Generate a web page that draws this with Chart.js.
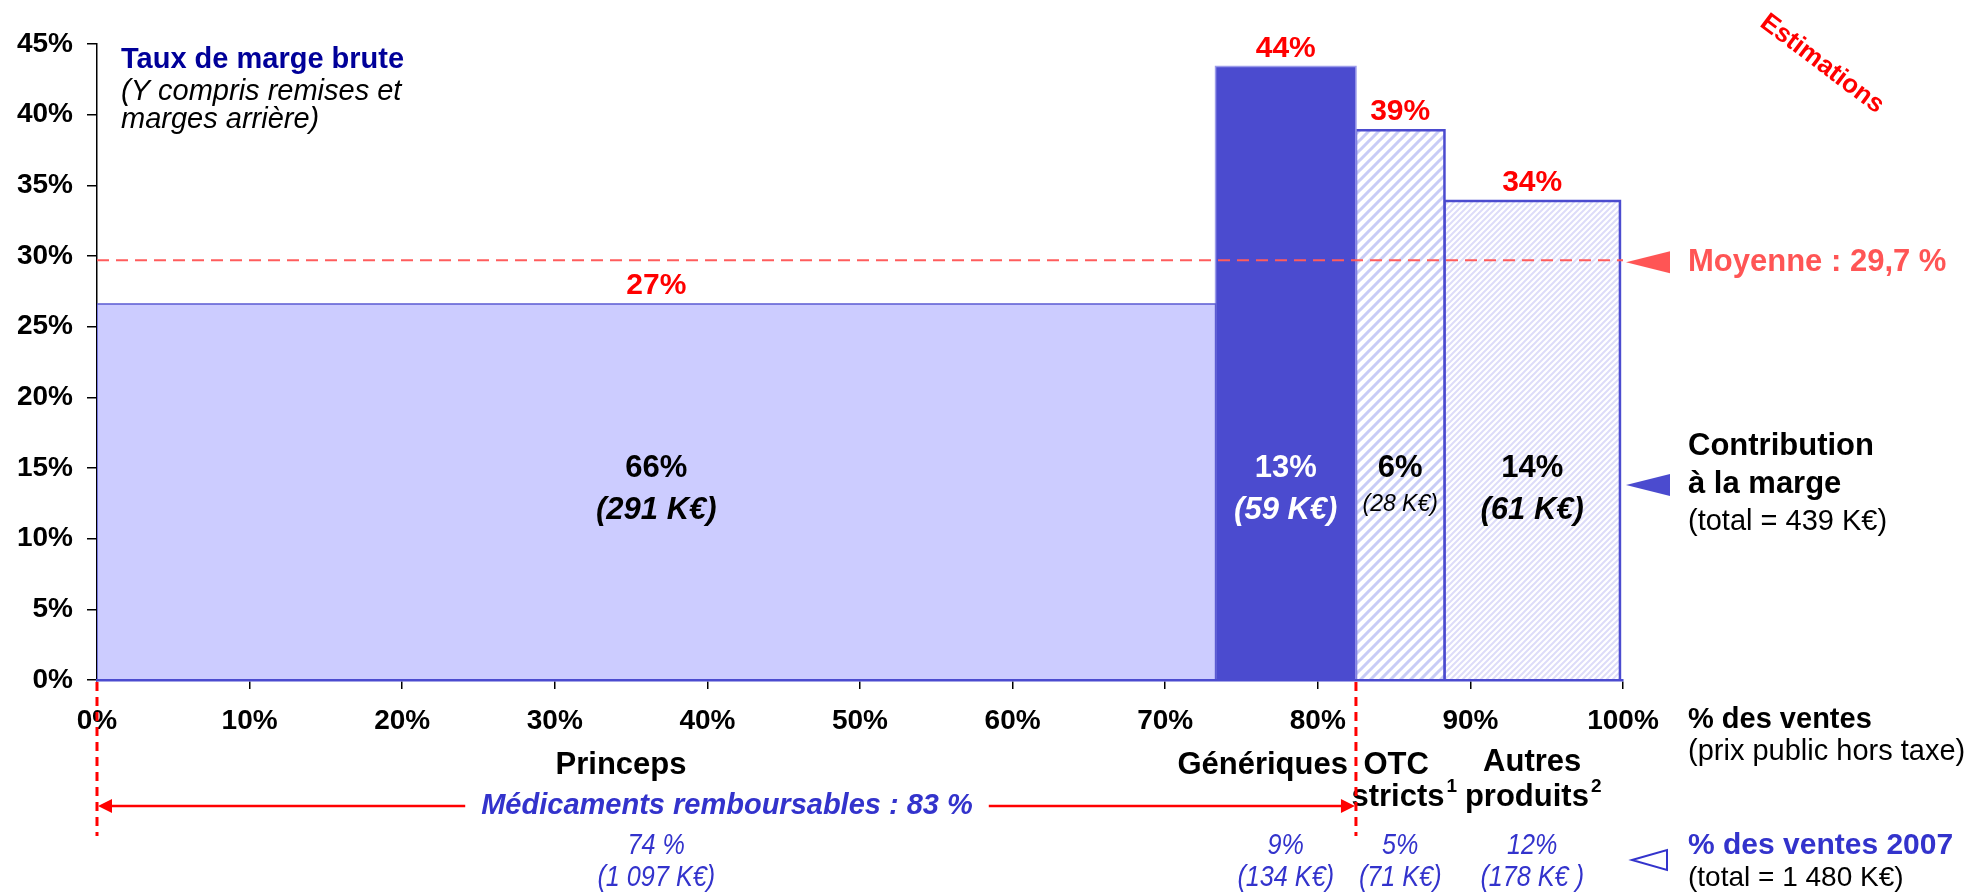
<!DOCTYPE html>
<html>
<head>
<meta charset="utf-8">
<script src="https://cdn.jsdelivr.net/npm/chart.js@4/dist/chart.umd.min.js"></script>
<style>
  body { margin: 0; background: #fff; }
  #wrap { width: 1972px; height: 895px; }
</style>
</head>
<body>
<div id="wrap"><canvas id="chart" width="1972" height="895"></canvas></div>
<script>
// data
const categories = ["Princeps", "Génériques", "OTC stricts", "Autres produits"];
const salesEdges = [0, 73.3, 82.5, 88.3, 99.8]; // cumulative % des ventes
const marginRates = [26.6, 43.4, 38.9, 33.9];
const rateLabels = ["27%", "44%", "39%", "34%"];
const contribPct = ["66%", "13%", "6%", "14%"];
const contribK = ["(291 K€)", "(59 K€)", "(28 K€)", "(61 K€)"];
const salesPct = ["74 %", "9%", "5%", "12%"];
const salesK = ["(1 097 K€)", "(134 K€)", "(71 K€)", "(178 K€ )"];
const meanRate = 29.7;
const refundableEdge = 82.5; // Médicaments remboursables : 83 %

const SANS = "'Liberation Sans', Arial, sans-serif";

function stripes(size, width, color) {
  const c = document.createElement("canvas");
  c.width = size;
  c.height = size;
  const g = c.getContext("2d");
  g.fillStyle = "#fff";
  g.fillRect(0, 0, size, size);
  g.strokeStyle = color;
  g.lineWidth = width;
  g.beginPath();
  g.moveTo(-2, 2); g.lineTo(2, -2);
  g.moveTo(0, size); g.lineTo(size, 0);
  g.moveTo(size - 2, size + 2); g.lineTo(size + 2, size - 2);
  g.stroke();
  return g.createPattern(c, "repeat");
}

const ctx = document.getElementById("chart").getContext("2d");

const fills = ["#ccccff", "#4b4bcf", stripes(10, 3, "#c8ccf6"), stripes(6, 2, "#dddcf9")];
const borders = ["#5a5ad2", "#9c9cea", "#4b4bcf", "#4b4bcf"];
const borderWidths = [1.5, 1.5, 2.5, 2.5];

// each bar is an outline (left edge, top, right edge) filled down to zero
const barSets = categories.map((name, i) => {
  const x0 = salesEdges[i], x1 = salesEdges[i + 1], h = marginRates[i];
  return {
    label: name,
    data: [{ x: x0, y: 0 }, { x: x0, y: h }, { x: x1, y: h }, { x: x1, y: 0 }],
    fill: "origin",
    backgroundColor: fills[i],
    borderColor: borders[i],
    borderWidth: borderWidths[i],
    pointRadius: 0,
    tension: 0,
  };
});

const meanSet = {
  label: "Moyenne",
  data: [{ x: 0, y: meanRate }, { x: 100, y: meanRate }],
  fill: false,
  borderColor: "#ff5c5c",
  borderWidth: 2,
  borderDash: [12, 7],
  pointRadius: 0,
};

function txt(c, s, x, y, font, color, align) {
  c.font = font;
  c.fillStyle = color;
  c.textAlign = align || "center";
  c.textBaseline = "middle";
  c.fillText(s, x, y);
}

// condensed italic text, squeezed horizontally
function narrow(c, s, x, y, color) {
  c.save();
  c.translate(x, y);
  c.scale(0.84, 1);
  txt(c, s, 0, 0, "italic 30px " + SANS, color);
  c.restore();
}

// label with a superscript number, centred on x
function supLabel(c, s, sup, x, y) {
  c.font = "bold 31px " + SANS;
  const w1 = c.measureText(s).width;
  c.font = "bold 19px " + SANS;
  const w2 = c.measureText(sup).width;
  const left = x - (w1 + w2) / 2;
  txt(c, s, left, y, "bold 31px " + SANS, "#000", "left");
  txt(c, sup, left + w1 + 2, y - 10, "bold 19px " + SANS, "#000", "left");
}

function leftTriangle(c, tipX, y, len, half, fill, stroke) {
  c.beginPath();
  c.moveTo(tipX, y);
  c.lineTo(tipX + len, y - half);
  c.lineTo(tipX + len, y + half);
  c.closePath();
  if (fill) { c.fillStyle = fill; c.fill(); }
  if (stroke) { c.strokeStyle = stroke; c.lineWidth = 2; c.stroke(); }
}

const annotations = {
  id: "annotations",
  afterDatasetsDraw(chart) {
    const c = chart.ctx;
    const xs = chart.scales.x, ys = chart.scales.y;
    c.save();

    // title of the y axis
    txt(c, "Taux de marge brute", 121, 60, "bold 29px " + SANS, "#000099", "left");
    txt(c, "(Y compris remises et", 121, 92, "italic 29px " + SANS, "#000", "left");
    txt(c, "marges arrière)", 121, 120, "italic 29px " + SANS, "#000", "left");

    // Estimations stamp
    c.save();
    c.translate(1822, 64);
    c.rotate(37 * Math.PI / 180);
    txt(c, "Estimations", 0, 0, "bold 26px " + SANS, "#ff0000");
    c.restore();

    categories.forEach((name, i) => {
      const cx = xs.getPixelForValue((salesEdges[i] + salesEdges[i + 1]) / 2);
      const top = ys.getPixelForValue(marginRates[i]);
      txt(c, rateLabels[i], cx, top - 18, "bold 30px " + SANS, "#ff0000");

      const inColor = i === 1 ? "#fff" : "#000";
      txt(c, contribPct[i], cx, ys.getPixelForValue(15), "bold 31px " + SANS, inColor);
      if (i === 2) {
        txt(c, contribK[i], cx, ys.getPixelForValue(12.4), "italic 23px " + SANS, inColor);
      } else {
        txt(c, contribK[i], cx, ys.getPixelForValue(12), "bold italic 31px " + SANS, inColor);
      }

      narrow(c, salesPct[i], cx, 846, "#3333cc");
      narrow(c, salesK[i], cx, 878, "#3333cc");
    });

    // category names under the x axis
    const cxs = categories.map((_, i) => xs.getPixelForValue((salesEdges[i] + salesEdges[i + 1]) / 2));
    txt(c, "Princeps", 621, 765, "bold 31px " + SANS, "#000");
    txt(c, "Génériques", xs.getPixelForValue(salesEdges[2]) - 8, 765, "bold 31px " + SANS, "#000", "right");
    txt(c, "OTC", cxs[2] - 4, 765, "bold 31px " + SANS, "#000");
    supLabel(c, "stricts", "1", cxs[2] + 3, 797);
    txt(c, "Autres", cxs[3], 762, "bold 31px " + SANS, "#000");
    supLabel(c, "produits", "2", cxs[3], 797);

    // red dashed guides and the refundable arrow
    const xa = xs.getPixelForValue(0), xb = xs.getPixelForValue(refundableEdge);
    const yBase = ys.getPixelForValue(0);
    c.strokeStyle = "#ff0000";
    c.lineWidth = 3;
    c.setLineDash([9, 6]);
    [xa, xb].forEach((x) => {
      c.beginPath();
      c.moveTo(x, yBase + 2);
      c.lineTo(x, 836);
      c.stroke();
    });
    c.setLineDash([]);
    const ay = 806;
    const label = "Médicaments remboursables : 83 %";
    c.font = "bold italic 29px " + SANS;
    const lw = c.measureText(label).width;
    const lc = 727;
    c.lineWidth = 2.5;
    c.beginPath();
    c.moveTo(xa + 12, ay); c.lineTo(lc - lw / 2 - 16, ay);
    c.moveTo(lc + lw / 2 + 16, ay); c.lineTo(xb - 12, ay);
    c.stroke();
    c.fillStyle = "#ff0000";
    c.beginPath();
    c.moveTo(xa + 1, ay); c.lineTo(xa + 15, ay - 7); c.lineTo(xa + 15, ay + 7); c.closePath();
    c.moveTo(xb - 1, ay); c.lineTo(xb - 15, ay - 7); c.lineTo(xb - 15, ay + 7); c.closePath();
    c.fill();
    txt(c, label, lc, ay, "bold italic 29px " + SANS, "#3333cc");

    // right hand notes
    const my = ys.getPixelForValue(meanRate);
    leftTriangle(c, 1626, my + 2, 44, 11, "#ff5555");
    txt(c, "Moyenne : 29,7 %", 1688, my + 2, "bold 31px " + SANS, "#ff5555", "left");

    leftTriangle(c, 1626, 485, 44, 11, "#4b4bcf");
    txt(c, "Contribution", 1688, 446, "bold 31px " + SANS, "#000", "left");
    txt(c, "à la marge", 1688, 484, "bold 31px " + SANS, "#000", "left");
    txt(c, "(total = 439 K€)", 1688, 522, "29px " + SANS, "#000", "left");

    txt(c, "% des ventes", 1688, 720, "bold 29px " + SANS, "#000", "left");
    txt(c, "(prix public hors taxe)", 1688, 752, "29px " + SANS, "#000", "left");

    leftTriangle(c, 1632, 860, 35, 10, null, "#3333cc");
    txt(c, "% des ventes 2007", 1688, 846, "bold 30px " + SANS, "#3333cc", "left");
    txt(c, "(total = 1 480 K€)", 1688, 878, "28px " + SANS, "#000", "left");

    c.restore();
  },
};

new Chart(ctx, {
  type: "line",
  data: { datasets: [meanSet, ...barSets] },
  options: {
    responsive: false,
    animation: false,
    layout: { padding: { top: 44, right: 349, left: 0, bottom: 0 } },
    plugins: { legend: { display: false }, tooltip: { enabled: false }, filler: { propagate: false } },
    scales: {
      x: {
        type: "linear",
        min: 0,
        max: 100,
        afterFit: (s) => { s.height = 215; },
        border: { color: "#4b4bcf", width: 2.5, z: 1 },
        grid: { drawOnChartArea: false, color: "#000", tickLength: 9, lineWidth: 1.5 },
        ticks: {
          stepSize: 10,
          padding: 15,
          color: "#000",
          font: { family: SANS, size: 28, weight: "bold" },
          callback: (v) => v + "%",
        },
      },
      y: {
        type: "linear",
        min: 0,
        max: 45,
        afterFit: (s) => { s.width = 97; },
        border: { color: "#000", width: 1.5 },
        grid: { drawOnChartArea: false, color: "#000", tickLength: 10, lineWidth: 1.5 },
        ticks: {
          stepSize: 5,
          padding: 14,
          color: "#000",
          font: { family: SANS, size: 28, weight: "bold" },
          callback: (v) => v + "%",
        },
      },
    },
  },
  plugins: [annotations],
});
</script>
</body>
</html>
